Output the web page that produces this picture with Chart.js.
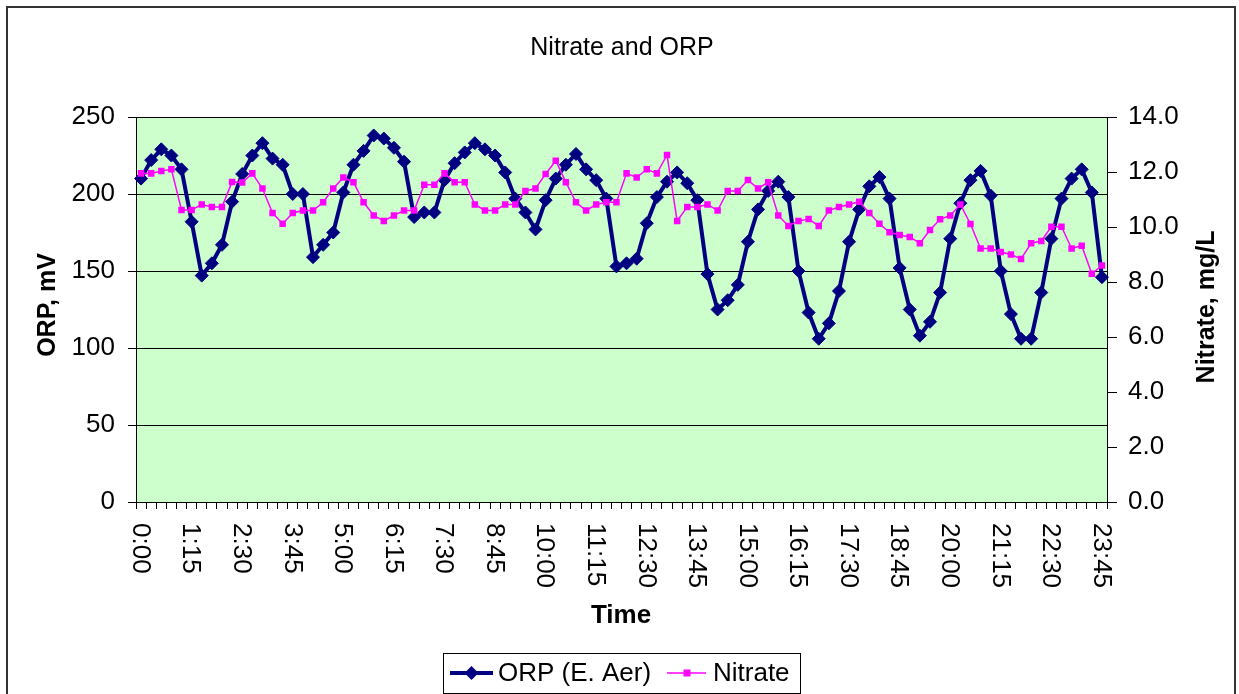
<!DOCTYPE html>
<html>
<head>
<meta charset="utf-8">
<title>Nitrate and ORP</title>
<script src="https://cdn.jsdelivr.net/npm/chart.js@4.4.1/dist/chart.umd.min.js"></script>
<style>
  html, body { margin: 0; padding: 0; background: #fff; }
  canvas { display: block; }
</style>
</head>
<body>
<canvas id="nitrateChart" width="1239" height="694"></canvas>
<script>
const times = [
    '0:00', '0:15', '0:30', '0:45', '1:00', '1:15', '1:30', '1:45',
    '2:00', '2:15', '2:30', '2:45', '3:00', '3:15', '3:30', '3:45',
    '4:00', '4:15', '4:30', '4:45', '5:00', '5:15', '5:30', '5:45',
    '6:00', '6:15', '6:30', '6:45', '7:00', '7:15', '7:30', '7:45',
    '8:00', '8:15', '8:30', '8:45', '9:00', '9:15', '9:30', '9:45',
    '10:00', '10:15', '10:30', '10:45', '11:00', '11:15', '11:30', '11:45',
    '12:00', '12:15', '12:30', '12:45', '13:00', '13:15', '13:30', '13:45',
    '14:00', '14:15', '14:30', '14:45', '15:00', '15:15', '15:30', '15:45',
    '16:00', '16:15', '16:30', '16:45', '17:00', '17:15', '17:30', '17:45',
    '18:00', '18:15', '18:30', '18:45', '19:00', '19:15', '19:30', '19:45',
    '20:00', '20:15', '20:30', '20:45', '21:00', '21:15', '21:30', '21:45',
    '22:00', '22:15', '22:30', '22:45', '23:00', '23:15', '23:30', '23:45'
];

// ORP, mV (left axis)
const orp = [
    210, 222, 229, 225, 216, 182, 147, 155, 167, 195,
    213, 225, 233, 223, 219, 200, 200, 159, 167, 175,
    201, 219, 228, 238, 236, 230, 221, 185, 188, 188,
    209, 220, 227, 233, 229, 225, 214, 197, 188, 177,
    196, 210, 219, 226, 216, 209, 197, 153, 155, 158,
    181, 198, 208, 214, 207, 196, 148, 125, 131, 141,
    169, 190, 202, 208, 198, 150, 123, 106, 116, 137,
    169, 190, 205, 211, 197, 152, 125, 108, 117, 136,
    171, 194, 209, 215, 199, 150, 122, 106, 106, 136,
    171, 197, 210, 216, 201, 146
];

// Nitrate, mg/L (right axis)
const nitrate = [
    11.95, 11.95, 12.04, 12.10, 10.62, 10.62, 10.82, 10.73, 10.73, 11.64,
    11.62, 11.95, 11.40, 10.51, 10.12, 10.51, 10.60, 10.60, 10.90, 11.40,
    11.80, 11.63, 10.90, 10.42, 10.22, 10.42, 10.60, 10.60, 11.54, 11.54,
    11.95, 11.63, 11.63, 10.82, 10.60, 10.60, 10.82, 10.82, 11.31, 11.40,
    11.93, 12.41, 11.63, 10.90, 10.60, 10.82, 10.90, 10.90, 11.95, 11.80,
    12.10, 11.95, 12.62, 10.22, 10.73, 10.73, 10.82, 10.60, 11.31, 11.31,
    11.71, 11.40, 11.63, 10.42, 10.04, 10.22, 10.29, 10.04, 10.60, 10.73,
    10.82, 10.92, 10.51, 10.12, 9.81, 9.71, 9.64, 9.41, 9.89, 10.28,
    10.42, 10.82, 10.11, 9.22, 9.22, 9.09, 9.00, 8.84, 9.41, 9.49,
    10.01, 10.01, 9.22, 9.32, 8.30, 8.60
];

const labelEvery = 5;
const FONT = '"Liberation Sans", Arial, sans-serif';

const decorPlugin = {
    id: 'decor',
    beforeDraw(chart) {
        const ctx = chart.ctx;
        const a = chart.chartArea;
        ctx.save();
        ctx.fillStyle = '#ffffff';
        ctx.fillRect(0, 0, chart.width, chart.height);
        ctx.fillStyle = '#ccffcc';
        ctx.fillRect(a.left, a.top, a.right - a.left, a.bottom - a.top);
        ctx.restore();
    },
    afterDraw(chart) {
        const ctx = chart.ctx;
        const xScale = chart.scales.x;
        ctx.save();

        // outer frame
        ctx.strokeStyle = '#333';
        ctx.lineWidth = 2;
        ctx.strokeRect(7, 7, 1228, 700);

        ctx.fillStyle = '#000';

        // title
        ctx.font = '25px ' + FONT;
        ctx.textAlign = 'center';
        ctx.textBaseline = 'alphabetic';
        ctx.fillText('Nitrate and ORP', 622, 55);

        // x tick labels, rotated clockwise
        ctx.font = '26px ' + FONT;
        ctx.textAlign = 'left';
        ctx.textBaseline = 'middle';
        for (let i = 0; i < times.length; i += labelEvery) {
            const x = xScale.getPixelForValue(i);
            ctx.save();
            ctx.translate(x - 1, 523);
            ctx.rotate(Math.PI / 2);
            ctx.fillText(times[i], 0, 0);
            ctx.restore();
        }

        // axis titles
        ctx.font = 'bold 26px ' + FONT;
        ctx.textAlign = 'center';
        ctx.textBaseline = 'alphabetic';
        ctx.fillText('Time', 621, 623);

        ctx.font = 'bold 25px ' + FONT;
        ctx.save();
        ctx.translate(55, 305);
        ctx.rotate(-Math.PI / 2);
        ctx.fillText('ORP, mV', 0, 0);
        ctx.restore();

        ctx.save();
        ctx.translate(1214, 307);
        ctx.rotate(-Math.PI / 2);
        ctx.fillText('Nitrate, mg/L', 0, 0);
        ctx.restore();

        // legend
        const ly = 673;
        ctx.fillStyle = '#fff';
        ctx.fillRect(443, 653, 357, 40);
        ctx.strokeStyle = '#000';
        ctx.lineWidth = 1;
        ctx.strokeRect(443.5, 653.5, 357, 40);

        const ds = chart.data.datasets;
        ctx.strokeStyle = ds[0].borderColor;
        ctx.lineWidth = 4;
        ctx.beginPath();
        ctx.moveTo(450, ly);
        ctx.lineTo(493, ly);
        ctx.stroke();
        ctx.fillStyle = ds[0].borderColor;
        ctx.beginPath();
        ctx.moveTo(471.5, ly - 7);
        ctx.lineTo(478.5, ly);
        ctx.lineTo(471.5, ly + 7);
        ctx.lineTo(464.5, ly);
        ctx.closePath();
        ctx.fill();

        ctx.strokeStyle = ds[1].borderColor;
        ctx.lineWidth = 1.5;
        ctx.beginPath();
        ctx.moveTo(667, ly);
        ctx.lineTo(706, ly);
        ctx.stroke();
        ctx.fillStyle = ds[1].borderColor;
        ctx.fillRect(683.5, ly - 3.5, 7, 7);

        ctx.fillStyle = '#000';
        ctx.font = '26px ' + FONT;
        ctx.textAlign = 'left';
        ctx.textBaseline = 'middle';
        ctx.fillText(ds[0].label, 498, ly + 1);
        ctx.fillText(ds[1].label, 713, ly + 1);

        ctx.restore();
    }
};

const ctx = document.getElementById('nitrateChart').getContext('2d');

new Chart(ctx, {
    type: 'line',
    data: {
        labels: times,
        datasets: [{
            label: 'ORP (E. Aer)',
            data: orp,
            yAxisID: 'y',
            borderColor: '#000080',
            backgroundColor: '#000080',
            borderWidth: 4,
            pointStyle: 'rectRot',
            pointRadius: 6.5,
            pointBorderWidth: 1,
            pointBackgroundColor: '#000080',
            tension: 0,
            order: 2
        }, {
            label: 'Nitrate',
            data: nitrate,
            yAxisID: 'y1',
            borderColor: '#ff00ff',
            backgroundColor: '#ff00ff',
            borderWidth: 1.5,
            pointStyle: 'rect',
            pointRadius: 4.6,
            pointBorderWidth: 0,
            pointBackgroundColor: '#ff00ff',
            tension: 0,
            order: 1
        }]
    },
    options: {
        responsive: false,
        animation: false,
        devicePixelRatio: 1,
        layout: {
            padding: { left: 0, right: 0, top: 117, bottom: 192 }
        },
        plugins: {
            legend: { display: false },
            title: { display: false },
            tooltip: { enabled: false }
        },
        scales: {
            x: {
                type: 'category',
                offset: true,
                grid: {
                    offset: true,
                    drawOnChartArea: false,
                    drawTicks: true,
                    tickLength: 7,
                    color: '#000'
                },
                border: { color: '#000', width: 1 },
                ticks: { display: false },
                afterFit(scale) { scale.height = 0; }
            },
            y: {
                position: 'left',
                min: 0,
                max: 250,
                ticks: {
                    stepSize: 50,
                    color: '#000',
                    padding: 13,
                    font: { size: 26, family: FONT }
                },
                grid: { color: '#000', tickLength: 8 },
                border: { color: '#000', width: 1 },
                afterFit(scale) { scale.width = 136; }
            },
            y1: {
                position: 'right',
                min: 0,
                max: 14,
                ticks: {
                    stepSize: 2,
                    color: '#000',
                    padding: 11,
                    font: { size: 26, family: FONT },
                    callback: v => v.toFixed(1)
                },
                grid: { drawOnChartArea: false, color: '#000', tickLength: 10 },
                border: { color: '#000', width: 1 },
                afterFit(scale) { scale.width = 132; }
            }
        }
    },
    plugins: [decorPlugin]
});
</script>
</body>
</html>
